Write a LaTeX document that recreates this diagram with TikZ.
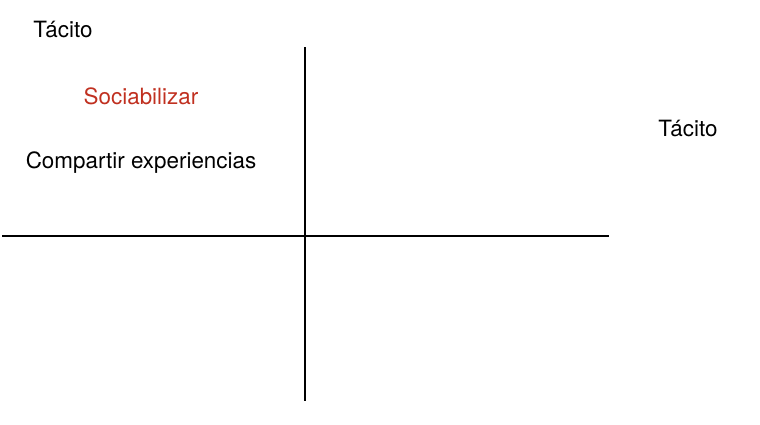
\documentclass[tikz,border=0pt]{standalone}
\usepackage{fontspec}
\setmainfont{TeX Gyre Heros}
\definecolor{redtxt}{RGB}{192,48,32}
\begin{document}
\begin{tikzpicture}[x=1pt,y=-1pt,
  lbl/.style={inner sep=0pt,font=\fontsize{22.4}{26}\selectfont},
  axis/.style={line width=1.8pt,black}]
\useasboundingbox (0,0) rectangle (760,424);
\node[lbl] (t1) at (63,29.5) {Tácito};
\node[lbl,text=redtxt] (soc) at (141,96.5) {Sociabilizar};
\node[lbl] (comp) at (141,162.5) {Compartir experiencias};
\node[lbl] (t2) at (688,128.5) {Tácito};
\coordinate (vt) at (305,47);
\coordinate (vb) at (305,401);
\coordinate (hl) at (2,236);
\coordinate (hr) at (609,236);
\draw[axis] (vt) -- (vb);
\draw[axis] (hl) -- (hr);
\end{tikzpicture}
\end{document}
